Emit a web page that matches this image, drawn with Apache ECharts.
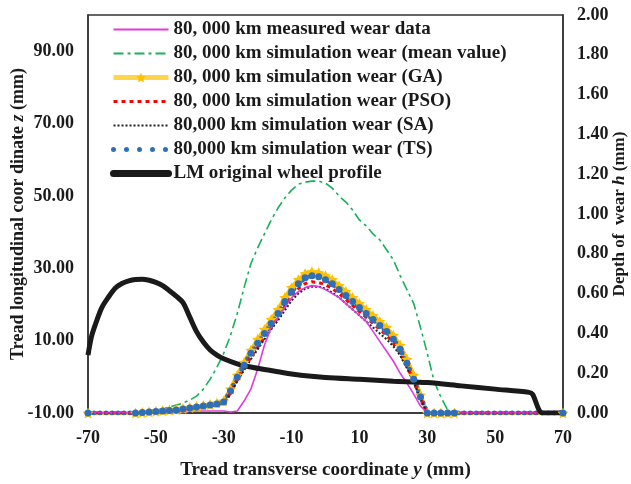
<!DOCTYPE html>
<html lang="en">

<head>
    <meta charset="UTF-8">
    <title>Tread wear</title>
    <style>
        html, body { margin: 0; padding: 0; background: #fff; }
    </style>
</head>

<body>
    <div id="main" style="width: 631px;height:484px;"></div>
</body>
<script src="https://cdn.jsdelivr.net/npm/echarts@6/dist/echarts.min.js"></script>

<script>
    // transverse coordinate y (mm) for the wear curves
    var wearY = [-70, -56, -54, -52, -50, -48, -46, -44, -42, -40, -38, -36, -34, -32, -30, -28, -26, -24, -22, -20,
        -18, -16, -14, -12, -10, -8, -6, -4, -2, 0, 2, 4, 6, 8, 10, 12, 14, 16, 18, 20, 22, 24, 26, 28, 30, 32, 34, 36, 38, 70];

    var measured = [0, 0, 0, 0, 0, 0, 0, 0, 0, 0.01, 0.01, 0.01, 0.01, 0.01, 0.01, 0.005, 0.01, 0.06, 0.12, 0.22,
        0.34, 0.43, 0.48, 0.53, 0.58, 0.61, 0.63, 0.64, 0.635, 0.62, 0.60, 0.58, 0.55, 0.52, 0.49, 0.46, 0.41, 0.36, 0.31, 0.26,
        0.20, 0.15, 0.095, 0.035, 0, 0, 0, 0, 0, 0];
    var meanValue = [0, 0, 0.005, 0.01, 0.015, 0.02, 0.03, 0.04, 0.05, 0.065, 0.085, 0.12, 0.17, 0.23, 0.30, 0.39, 0.50, 0.63, 0.75, 0.83,
        0.90, 0.97, 1.03, 1.08, 1.12, 1.15, 1.16, 1.165, 1.165, 1.155, 1.13, 1.09, 1.06, 1.02, 0.97, 0.94, 0.90, 0.87, 0.82, 0.77,
        0.69, 0.62, 0.55, 0.43, 0.30, 0.16, 0.08, 0.015, 0, 0];
    var gaWear = [0, 0, 0.003, 0.006, 0.009, 0.012, 0.015, 0.018, 0.023, 0.028, 0.033, 0.038, 0.043, 0.05, 0.06, 0.12, 0.19, 0.255, 0.315, 0.37,
        0.42, 0.47, 0.52, 0.58, 0.63, 0.67, 0.70, 0.71, 0.705, 0.69, 0.67, 0.64, 0.61, 0.58, 0.55, 0.52, 0.49, 0.46, 0.43, 0.39,
        0.34, 0.27, 0.19, 0.09, 0, 0, 0, 0, 0, 0];
    var psoWear = [0, 0, 0.002, 0.004, 0.007, 0.009, 0.011, 0.014, 0.018, 0.022, 0.027, 0.032, 0.037, 0.042, 0.05, 0.10, 0.165, 0.225, 0.28, 0.33,
        0.38, 0.43, 0.48, 0.535, 0.585, 0.625, 0.65, 0.66, 0.655, 0.645, 0.625, 0.60, 0.57, 0.54, 0.51, 0.48, 0.45, 0.42, 0.39, 0.35,
        0.30, 0.235, 0.16, 0.075, 0, 0, 0, 0, 0, 0];
    var saWear = [0, 0, 0.002, 0.004, 0.006, 0.008, 0.01, 0.013, 0.017, 0.021, 0.026, 0.031, 0.036, 0.041, 0.048, 0.095, 0.16, 0.215, 0.27, 0.32,
        0.37, 0.42, 0.465, 0.515, 0.565, 0.60, 0.625, 0.635, 0.635, 0.625, 0.605, 0.58, 0.55, 0.52, 0.49, 0.46, 0.43, 0.40, 0.37, 0.335,
        0.29, 0.225, 0.155, 0.07, 0, 0, 0, 0, 0, 0];
    var tsWear = [0, 0, 0.002, 0.005, 0.008, 0.01, 0.012, 0.015, 0.02, 0.025, 0.03, 0.035, 0.04, 0.045, 0.055, 0.11, 0.18, 0.24, 0.30, 0.35,
        0.40, 0.45, 0.50, 0.56, 0.61, 0.65, 0.68, 0.69, 0.685, 0.67, 0.65, 0.62, 0.59, 0.56, 0.53, 0.50, 0.47, 0.44, 0.41, 0.37,
        0.32, 0.25, 0.17, 0.08, 0, 0, 0, 0, 0, 0];

    // LM wheel profile, longitudinal coordinate z (mm)
    var profileY = [-70, -69, -68, -66, -64, -62, -60, -58, -56, -54, -52, -50, -48, -46, -44, -42, -40, -38, -36, -34,
        -32, -30, -26, -22, -18, -14, -10, -5, 0, 10, 20, 30, 40, 50, 60, 61, 64, 70];
    var profileZ = [6.0, 11, 14, 19, 22, 24.5, 25.8, 26.5, 26.9, 27, 26.7, 26.1, 25.2, 23.8, 22.3, 20.5, 16.5, 12.5, 9.6, 7.4,
        6.0, 5.0, 3.6, 2.7, 2.0, 1.4, 0.8, 0.2, -0.2, -0.7, -1.2, -1.6, -2.5, -3.4, -4.3, -4.8, -10, -10];

    var names = [
        '80, 000 km measured wear data',
        '80, 000 km simulation wear (mean value)',
        '80, 000 km simulation wear (GA)',
        '80, 000 km simulation wear (PSO)',
        '80,000 km simulation wear (SA)',
        '80,000 km simulation wear (TS)',
        'LM original wheel profile'
    ];

    function pairs(xs, ys) {
        var out = [];
        for (var i = 0; i < xs.length; i++) {
            out.push([xs[i], ys[i]]);
        }
        return out;
    }

    var font = '"Liberation Serif", "Times New Roman", serif';
    var ink = '#1a1a1a';
    var star = 'path://M0,-10 L2.9,-4 L9.5,-3.1 L4.7,1.5 L5.9,8.1 L0,5 L-5.9,8.1 L-4.7,1.5 L-9.5,-3.1 L-2.9,-4 Z';
    var hide = { opacity: 0 };

    var myChart = echarts.init(document.getElementById('main'));
    myChart.setOption({
        animation: false,
        textStyle: { fontFamily: font },
        grid: {
            left: 88, right: 68, top: 15, bottom: 71,
            outerBoundsMode: 'none',
            containLabel: false,
            show: true, borderColor: '#333', borderWidth: 1.5
        },
        legend: {
            orient: 'vertical',
            left: 105,
            top: 15,
            itemWidth: 55,
            itemHeight: 12,
            itemGap: 5,
            data: [
                { name: names[0], itemStyle: hide, lineStyle: { width: 2 } },
                { name: names[1], itemStyle: hide, lineStyle: { width: 2 } },
                { name: names[2], lineStyle: { width: 5, color: '#ffd54a' } },
                { name: names[3], itemStyle: hide, lineStyle: { width: 3 } },
                { name: names[4], itemStyle: hide, lineStyle: { width: 2 } },
                { name: names[5], itemStyle: hide, lineStyle: { width: 5, type: [0, 13], cap: 'round' } },
                { name: names[6], itemStyle: hide, lineStyle: { width: 7, cap: 'round' } }
            ],
            textStyle: { fontFamily: font, fontSize: 19, fontWeight: 'bold', color: ink, lineHeight: 19 }
        },
        xAxis: {
            type: 'value',
            min: -70, max: 70, interval: 20,
            name: 'Tread transverse coordinate {i|y} (mm)',
            nameLocation: 'middle',
            nameGap: 48,
            nameTextStyle: {
                fontFamily: font, fontSize: 19, fontWeight: 'bold', color: ink,
                rich: { i: { fontFamily: font, fontSize: 19, fontWeight: 'bold', fontStyle: 'italic', color: ink } }
            },
            axisLine: { onZero: false, lineStyle: { color: '#333', width: 1.5 } },
            axisTick: { show: false },
            splitLine: { show: false },
            axisLabel: { margin: 16, fontFamily: font, fontSize: 18, fontWeight: 'bold', color: ink }
        },
        yAxis: [{
            type: 'value',
            min: -10, max: 100, interval: 20,
            name: 'Tread longitudinal coor dinate {i|z} (mm)',
            nameLocation: 'middle',
            nameRotate: 90,
            nameGap: 61,
            nameMoveOverlap: false,
            nameTextStyle: {
                fontFamily: font, fontSize: 18, fontWeight: 'bold', color: ink,
                rich: { i: { fontFamily: font, fontSize: 18, fontWeight: 'bold', fontStyle: 'italic', color: ink } }
            },
            axisLine: { show: true, onZero: false, lineStyle: { color: '#333', width: 1.5 } },
            axisTick: { show: false },
            splitLine: { show: false },
            axisLabel: {
                margin: 14, showMaxLabel: false, fontFamily: font, fontSize: 18, fontWeight: 'bold', color: ink,
                formatter: function (v) { return v.toFixed(2); }
            }
        }, {
            type: 'value',
            min: 0, max: 2, interval: 0.2,
            position: 'right',
            name: 'Depth of  wear {i|h} (mm)',
            nameLocation: 'middle',
            nameRotate: 90,
            nameGap: 48,
            nameMoveOverlap: false,
            nameTextStyle: {
                fontFamily: font, fontSize: 17, fontWeight: 'bold', color: ink,
                rich: { i: { fontFamily: font, fontSize: 17, fontWeight: 'bold', fontStyle: 'italic', color: ink } }
            },
            axisLine: { show: true, onZero: false, lineStyle: { color: '#333', width: 1.5 } },
            axisTick: { show: false },
            splitLine: { show: false },
            axisLabel: {
                margin: 14, fontFamily: font, fontSize: 18, fontWeight: 'bold', color: ink,
                formatter: function (v) { return v.toFixed(2); }
            }
        }],
        series: [{
            name: names[1],
            type: 'line',
            yAxisIndex: 1,
            symbol: 'none',
            itemStyle: { color: '#18b058' },
            lineStyle: { color: '#18b058', width: 1.6, type: [10, 4, 3, 4] },
            data: pairs(wearY, meanValue)
        }, {
            name: names[2],
            type: 'line',
            yAxisIndex: 1,
            symbol: star,
            symbolSize: 11,
            itemStyle: { color: '#ffc000' },
            lineStyle: { color: '#ffc000', width: 4 },
            data: pairs(wearY, gaWear)
        }, {
            name: names[5],
            type: 'line',
            yAxisIndex: 1,
            symbol: 'circle',
            symbolSize: 7,
            itemStyle: { color: '#2f6fb8' },
            lineStyle: { color: '#2f6fb8', width: 5, type: [0, 6], cap: 'round' },
            data: pairs(wearY, tsWear)
        }, {
            name: names[3],
            type: 'line',
            yAxisIndex: 1,
            symbol: 'none',
            itemStyle: { color: '#ff0000' },
            lineStyle: { color: '#ff0000', width: 3, type: [4, 4] },
            data: pairs(wearY, psoWear)
        }, {
            name: names[4],
            type: 'line',
            yAxisIndex: 1,
            symbol: 'none',
            itemStyle: { color: '#222' },
            lineStyle: { color: '#222', width: 2, type: [2, 2] },
            data: pairs(wearY, saWear)
        }, {
            name: names[0],
            type: 'line',
            yAxisIndex: 1,
            symbol: 'none',
            itemStyle: { color: '#e03ae0' },
            lineStyle: { color: '#e03ae0', width: 1.6 },
            data: pairs(wearY, measured)
        }, {
            name: names[6],
            type: 'line',
            yAxisIndex: 0,
            symbol: 'none',
            smooth: 0.3,
            itemStyle: { color: '#1a1a1a' },
            lineStyle: { color: '#1a1a1a', width: 5 },
            data: pairs(profileY, profileZ)
        }]
    });
</script>

</html>
